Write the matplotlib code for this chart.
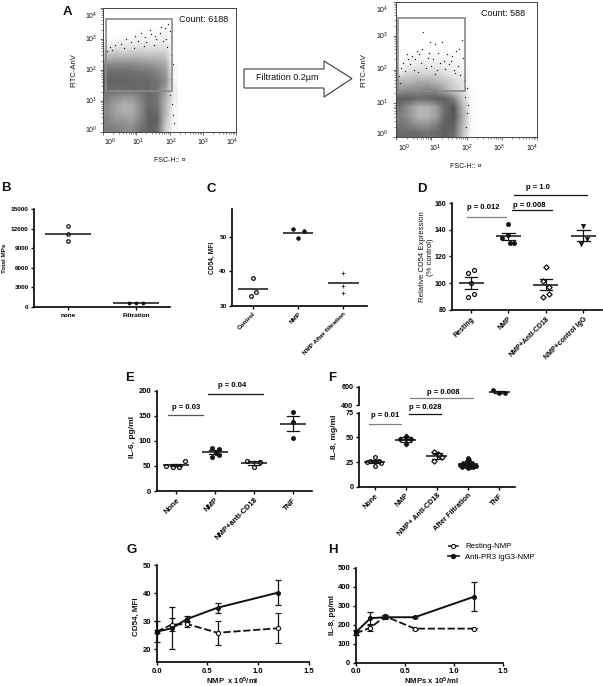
import numpy as np
import matplotlib
matplotlib.use('Agg')
import matplotlib.pyplot as plt
from matplotlib.patches import Polygon, Rectangle
from matplotlib.lines import Line2D

plt.rcParams['font.family'] = ['Liberation Sans', 'DejaVu Sans']
plt.rcParams['mathtext.default'] = 'regular'

W, H = 603, 686

# Panel A: grey level of the dot cloud, rows from low FITC up, read per quarter decade
flow_left = [
    [.60, .60, .55, .55, .65, .75, .70, .25, .02],
    [.60, .50, .50, .45, .60, .75, .75, .30, .03],
    [.55, .45, .38, .40, .55, .75, .70, .35, .03],
    [.55, .45, .38, .40, .55, .70, .65, .35, .05],
    [.60, .55, .50, .50, .60, .70, .65, .40, .08],
    [.70, .70, .70, .70, .70, .70, .65, .45, .08],
    [.75, .72, .72, .72, .70, .70, .65, .55, .05],
    [.70, .70, .70, .68, .68, .65, .60, .50, .03],
    [.60, .60, .60, .58, .55, .55, .50, .42, .02],
    [.35, .40, .38, .38, .38, .35, .35, .30, .01],
    [.18, .20, .18, .20, .20, .18, .20, .18, .01],
    [.03, .06, .08, .08, .10, .08, .10, .10, .01],
    [.00, .00, .01, .02, .03, .03, .04, .06, .00],
    [.00, .00, .00, .00, .00, .00, .00, .00, .00],
]
flow_right = [
    [.70, .70, .70, .65, .70, .75, .70, .30, .02],
    [.65, .60, .50, .50, .60, .75, .75, .35, .02],
    [.60, .50, .35, .35, .45, .70, .80, .40, .02],
    [.65, .50, .35, .35, .45, .70, .80, .35, .02],
    [.75, .75, .70, .70, .75, .75, .60, .25, .02],
    [.50, .55, .55, .60, .55, .40, .25, .15, .01],
    [.35, .35, .40, .40, .35, .30, .20, .12, .00],
    [.12, .20, .20, .20, .20, .15, .10, .07, .00],
    [.03, .08, .10, .10, .10, .08, .06, .04, .00],
    [.01, .03, .05, .05, .05, .05, .03, .02, .00],
    [.00, .00, .00, .00, .00, .00, .00, .00, .00],
    [.00, .00, .00, .00, .00, .00, .00, .00, .00],
    [.00, .00, .00, .00, .00, .00, .00, .00, .00],
    [.00, .00, .00, .00, .00, .00, .00, .00, .00],
]
# sparse events that can be told apart, log10 FSC / log10 FITC
sparse_left_x = [.95, 1.15, 1.25, 1.4, 1.55, 1.7, 1.85, 1.95, 2.0, 1.9, 2.05, .55, .7, .85, 1.05, 1.3, 1.6, 1.8, .2, .35, 1.45, 1.75,
                 2.02, 2.08, 2.12, 2.15, 2.05, 2.1, .12, .28, .62, .92, 1.22, 1.52, 1.93, 2.06]
sparse_left_y = [3.1, 3.2, 3.05, 3.3, 3.1, 3.2, 3.35, 3.5, 3.25, 3.0, 3.05, 2.85, 3.0, 2.9, 2.95, 2.9, 3.0, 2.95, 2.75, 2.8, 3.15, 3.4,
                 1.2, .9, .55, .3, 1.7, 2.2, 2.6, 2.65, 2.7, 2.72, 2.78, 2.82, 2.75, 2.5]
sparse_right_x = [.78, .97, 1.3, 1.87, 1.1, .6, .75, .3, .45, 1.2, 1.45, 1.7, 1.8, .2, .55, .9, 1.05, 1.35, 1.6, .15, .4, .7, 1.0, 1.25, 1.5, 1.75, 1.9, .25, .5, .85, 1.15, 1.4, 1.65, .35, .65, .95, 1.55,
                  1.98, 2.02, 2.05, 1.96, 2.0, 1.92, .08, .12, 1.82, 1.68, .62, 1.12]
sparse_right_y = [3.12, 2.82, 2.82, 2.87, 2.75, 2.55, 2.6, 2.45, 2.4, 2.5, 2.45, 2.55, 2.6, 2.2, 2.3, 2.35, 2.3, 2.25, 2.4, 2.05, 2.15, 2.2, 2.1, 2.2, 2.15, 2.1, 2.35, 1.95, 2.0, 2.05, 1.98, 2.02, 2.0, 2.3, 2.45, 2.5, 2.25,
                  .3, .7, .95, 1.2, 1.45, 1.7, 1.8, 1.6, 1.85, 1.9, 1.92, 1.88]

# Panel B
b_labels = ['none', 'Filtration']
b_x = [[0, 0, 0], [-.11, 0, .11]]
b_y = [[12400, 11200, 10100], [600, 600, 600]]
b_mean = [11200, 600]

# Panel C
c_labels = ['Control', 'NMP', 'NMP After filtration']
c_x = [[0, .07, -.05], [-.12, .12, 0], [0, 0, 0]]
c_y = [[38, 34, 33], [52.2, 51.7, 49.5], [39.6, 35.9, 33.7]]
c_mean = [35, 51, 36.5]

# Panel D
d_labels = ['Resting', 'NMP', 'NMP+Anti-CD18', 'NMP+control IgG']
d_x = [[.08, -.08, 0, .08, -.08], [0, 0, -.17, .04, .16], [0, -.07, .09, .09, -.07], [0, .09, -.07]]
d_y = [[110, 108, 100, 92, 90], [144, 136, 134, 130, 130], [112, 102, 97, 92, 90], [143, 133, 129]]
d_mean = [100, 135, 99, 135.5]
d_err = [4.3, 2.6, 4, 4]

# Panel E
e_labels = ['None', 'NMP', 'NMP+anti-CD18', 'TNF']
e_x = [[-.26, -.09, .08, .23], [-.09, .09, .03, -.09, .09], [-.17, .16, 0], [0, 0, 0]]
e_y = [[50, 48.7, 47.3, 60], [87, 84, 76, 68, 72], [60, 59, 48], [159, 138, 106]]
e_mean = [52, 78, 56, 135]
e_err = [2.5, 4.5, 3.5, 15.5]

# Panel F
f_labels = ['None', 'NMP', 'NMP+ Anti-CD18', 'After Filtration', 'TNF']
f_x = [[0, -.15, .15, 0, .22, -.23, 0],
       [0, -.17, .18, 0, 0],
       [-.1, -.1, .04, .15, .08],
       [0, -.04, .04, -.15, .12, -.25, .25, 0, -.1, .06, -.2, .17, 0, -.06, .09],
       [-.2, 0, .2]]
f_y = [[29.7, 26, 26, 26, 24, 25, 21],
       [51, 48, 48, 48, 43],
       [35.5, 26, 33, 30, 32],
       [29, 26, 27, 24, 24, 22, 21, 23.6, 21, 20, 20, 20, 18.6, 22, 22],
       [564, 527, 527]]
f_mean = [25.5, 47.7, 31.5, 23, 545]
f_err = [1.5, 2.5, 3, 1, 12]

# Panels G and H
dose = [0, .15, .3, .6, 1.2]
g_active = [26.3, 27.5, 30.8, 34.8, 40.2]
g_active_err = [3.7, 7.5, 1, 1.8, 4.3]
g_resting = [26.3, 28.8, 29, 25.9, 27.5]
g_resting_err = [.5, 2.2, 1, 4.3, 5.3]
h_active = [160, 235, 240, 240, 348]
h_active_err = [15, 35, 10, 5, 77]
h_resting = [155, 185, 245, 180, 180]
h_resting_err = [10, 20, 8, 5, 3]

fig = plt.figure(figsize=(W / 100, H / 100), dpi=100)

# overlay in pixel coordinates for panel letters, axis titles and the filtration arrow
page = fig.add_axes([0, 0, 1, 1], zorder=5)
page.set_xlim(0, W)
page.set_ylim(H, 0)
page.axis('off')


def add_ax(left, top, right, bottom):
    return fig.add_axes([left / W, 1 - bottom / H, (right - left) / W, (bottom - top) / H])


def note(x, y, s, size=5, weight='normal', rotation=0, ha='center'):
    page.text(x, y, s, fontsize=size, fontweight=weight, rotation=rotation, ha=ha, va='center', color='#111111')


def flow_panel(box, grid, sx, sy, gate, xlabs, ylabs, ylab_x, xlab_y):
    ax = add_ax(*box)
    ax.imshow(grid, origin='lower', extent=[0, 2.25, 0, 3.5], cmap='gray_r', vmin=0, vmax=1.2,
              interpolation='bilinear', aspect='auto')
    ax.scatter(sx, sy, s=1.0, color='#222222', linewidths=0)
    ax.set_xlim(0, 4)
    ax.set_ylim(0, 4)
    ax.add_patch(Rectangle((gate[0], gate[2]), gate[1] - gate[0], gate[3] - gate[2], fill=False, ec='#8a8a8a', lw=1.2))
    ax.set_xticks(range(5))
    ax.set_yticks(range(5))
    minor = [d + np.log10(m) for d in range(4) for m in range(2, 10)]
    ax.set_xticks(minor, minor=True)
    ax.set_yticks(minor, minor=True)
    ax.set_xticklabels([])
    ax.set_yticklabels([])
    ax.tick_params(length=2.5, width=0.5, color='#333333')
    ax.tick_params(which='minor', length=1.2, width=0.4, color='#333333')
    for s in ax.spines.values():
        s.set_linewidth(0.7)
        s.set_color('#444444')
    for i, x in enumerate(xlabs):
        note(x, xlab_y, '$10^{%d}$' % i, size=5)
    for i, y in enumerate(ylabs):
        note(ylab_x, y, '$10^{%d}$' % i, size=5)


def dot_axes(box, xlim, ylim, yticks, labels, size=5, weight='bold', rot=45, lw=1.2):
    ax = add_ax(*box)
    ax.set_xlim(*xlim)
    ax.set_ylim(*ylim)
    ax.spines['top'].set_visible(False)
    ax.spines['right'].set_visible(False)
    ax.spines['left'].set_linewidth(lw)
    ax.spines['bottom'].set_linewidth(lw)
    ax.set_yticks(yticks)
    ax.set_xticks(range(len(labels)))
    if rot:
        ax.set_xticklabels(labels, rotation=rot, ha='right', rotation_mode='anchor', fontsize=size, fontweight=weight)
    else:
        ax.set_xticklabels(labels, fontsize=size, fontweight=weight)
    for t in ax.get_yticklabels():
        t.set_fontsize(size)
        t.set_fontweight(weight)
    ax.tick_params(length=2.5, width=lw * 0.8, pad=1.5)
    ax.patch.set_alpha(0)
    return ax


def dots(ax, i, xs, ys, marker='o', filled=True, s=7):
    px = [i + x for x in xs]
    if filled:
        ax.scatter(px, ys, s=s, marker=marker, color='#111111', linewidths=0.5, zorder=3, clip_on=False)
    else:
        ax.scatter(px, ys, s=s, marker=marker, facecolors='white', edgecolors='#111111', linewidths=0.9, zorder=3, clip_on=False)


def mean_bar(ax, i, mean, err=None, half=.335, cap=.17, color='#111111'):
    ax.plot([i - half, i + half], [mean, mean], color=color, lw=1.1, zorder=4, solid_capstyle='butt')
    if err is not None:
        ax.plot([i, i], [mean - err, mean + err], color=color, lw=0.9, zorder=4)
        ax.plot([i - cap, i + cap], [mean + err, mean + err], color=color, lw=0.9, zorder=4)
        ax.plot([i - cap, i + cap], [mean - err, mean - err], color=color, lw=0.9, zorder=4)


def p_line(ax, x0, x1, y, txt, tx, ty, color='#111111', size=5.5):
    ax.plot([x0, x1], [y, y], color=color, lw=0.9, clip_on=False)
    ax.text(tx, ty, txt, fontsize=size, fontweight='bold', ha='center', va='center', clip_on=False)


# A: flow cytometry plots and arrow
flow_panel((103, 8, 236, 132), flow_left, sparse_left_x, sparse_left_y, (.09, 2.07, 1.32, 3.65),
           [110, 138, 171, 203, 232], [130, 101, 70, 39, 16], 91, 142)
flow_panel((396, 2, 537, 137), flow_right, sparse_right_x, sparse_right_y, (.06, 1.95, 1.36, 3.53),
           [404, 435, 467, 499, 532], [134, 103, 69, 36, 10], 382, 148)
note(179, 19, 'Count: 6188', size=6.5, ha='left')
note(481, 13, 'Count: 588', size=6.5, ha='left')
note(74, 70, 'FITC-AnV', size=5.5, rotation=90)
note(364, 70, 'FITC-AnV', size=5.5, rotation=90)
note(170, 160, 'FSC-H:: ¤', size=5)
note(466, 167, 'FSC-H:: ¤', size=5)
page.add_patch(Polygon([(244, 69), (324, 69), (324, 61), (352, 78.5), (324, 97), (324, 88), (244, 88)],
                       closed=True, fc='white', ec='#222222', lw=0.7))
note(256, 78, 'Filtration 0.2µm', size=6.5, ha='left')

# B
ax = dot_axes((34, 209, 170, 307), (-.5, 1.5), (0, 15000), [0, 3000, 6000, 9000, 12000, 15000], b_labels, size=4.6, rot=0)
note(5, 258, 'Total MPs', size=4.6, weight='bold', rotation=90)
for i in range(2):
    dots(ax, i, b_x[i], b_y[i], filled=i == 1, s=6 if i == 0 else 5)
    mean_bar(ax, i, b_mean[i])

# C
ax = dot_axes((232, 209, 367, 306), (-.46, 2.52), (30, 58), [30, 40, 50], c_labels, size=4.6)
note(212, 258, 'CD54, MFI', size=4.8, weight='bold', rotation=90)
for i, m in enumerate(['o', 'o', '+']):
    dots(ax, i, c_x[i], c_y[i], marker=m, filled=i > 0, s=7)
    mean_bar(ax, i, c_mean[i])

# D
ax = dot_axes((452, 203, 602, 310), (-.51, 3.5), (80, 160), [80, 100, 120, 140, 160], d_labels, size=5)
note(427, 257, 'Relative CD54 Expression\n(% control)', size=5.6, rotation=90)
dots(ax, 0, d_x[0], d_y[0], filled=False, s=8)
dots(ax, 1, d_x[1], d_y[1], s=9)
dots(ax, 2, d_x[2], d_y[2], marker='D', filled=False, s=7)
dots(ax, 3, d_x[3], d_y[3], marker='v', s=9)
for i in range(4):
    mean_bar(ax, i, d_mean[i], d_err[i])
p_line(ax, -.1, .93, 149.8, 'p = 0.012', .33, 156.5, color='#808080')
p_line(ax, 1.1, 2.16, 154.8, 'p = 0.008', 1.55, 158.5)
p_line(ax, 1.16, 3.1, 166, 'p = 1.0', 1.8, 171.5)

# E
ax = dot_axes((157, 391, 312, 491), (-.49, 3.49), (0, 200), [0, 50, 100, 150, 200], e_labels, size=5.5)
note(132, 437, 'IL-6, pg/ml', size=6, weight='bold', rotation=90)
dots(ax, 0, e_x[0], e_y[0], filled=False, s=8)
dots(ax, 1, e_x[1], e_y[1], s=9)
dots(ax, 2, e_x[2], e_y[2], filled=False, s=8)
dots(ax, 3, e_x[3], e_y[3], s=9)
for i in range(4):
    mean_bar(ax, i, e_mean[i], e_err[i], cap=.16)
p_line(ax, -.2, .68, 152.7, 'p = 0.03', .25, 167, color='#555555')
p_line(ax, .83, 2.22, 194.7, 'p = 0.04', 1.44, 211)

# F: broken axis, TNF sits on the upper part
ax = dot_axes((359, 412.7, 515, 486.7), (-.5, 4.51), (0, 75), [0, 25, 50, 75], f_labels, size=5.2)
note(334, 437, 'IL-8, mg/ml', size=6, weight='bold', rotation=90)
top = dot_axes((359, 386.7, 515, 405), (-.5, 4.51), (400, 600), [400, 600], f_labels, size=5.2)
top.spines['bottom'].set_visible(False)
top.set_xticks([])
dots(ax, 0, f_x[0], f_y[0], filled=False, s=7)
dots(ax, 1, f_x[1], f_y[1], marker='D', s=7)
dots(ax, 2, f_x[2], f_y[2], marker='D', filled=False, s=7)
dots(ax, 3, f_x[3], f_y[3], s=8)
dots(top, 4, f_x[4], f_y[4], s=8)
for i in range(4):
    mean_bar(ax, i, f_mean[i], f_err[i], cap=.16)
mean_bar(top, 4, f_mean[4], f_err[4], cap=.16)
p_line(ax, -.17, .84, 63.9, 'p = 0.01', .33, 72, color='#808080')
p_line(ax, 1.11, 2.13, 73.6, 'p = 0.028', 1.62, 80)
p_line(ax, 1.14, 3.17, 90, 'p = 0.008', 2.19, 95.6, color='#808080')


def dose_axes(box, xlim, ylim, yticks):
    ax = add_ax(*box)
    ax.set_xlim(*xlim)
    ax.set_ylim(*ylim)
    ax.spines['top'].set_visible(False)
    ax.spines['right'].set_visible(False)
    ax.spines['left'].set_linewidth(1.2)
    ax.spines['bottom'].set_linewidth(1.2)
    ax.set_yticks(yticks)
    ax.set_xticks([0, .5, 1, 1.5])
    ax.set_xticklabels(['0.0', '0.5', '1.0', '1.5'])
    ax.tick_params(length=2.5, width=1, labelsize=5.5, pad=1.5)
    for t in ax.get_xticklabels() + ax.get_yticklabels():
        t.set_fontweight('bold')
    ax.patch.set_alpha(0)
    return ax


def dose_curves(ax, active, active_err, resting, resting_err):
    ax.errorbar(dose, resting, yerr=resting_err, color='#111111', lw=1.3, ls=(0, (4, 1.5)), marker='o', ms=3,
                mfc='white', mec='#111111', mew=0.8, capsize=2, elinewidth=0.9, capthick=0.9, clip_on=False)
    ax.errorbar(dose, active, yerr=active_err, color='#111111', lw=1.4, marker='o', ms=2.6, capsize=2,
                elinewidth=0.9, capthick=0.9, clip_on=False)


# G
ax = dose_axes((156.7, 565, 308.7, 662), (0, 1.5), (15.5, 50), [20, 30, 40, 50])
note(136, 617, 'CD54, MFI', size=5.8, weight='bold', rotation=90)
note(232, 681, 'NMP  x 10$^5$/ml', size=5.6, weight='bold')
dose_curves(ax, g_active, g_active_err, g_resting, g_resting_err)

# H
ax = dose_axes((355.7, 568, 503.3, 662.7), (0, 1.5), (0, 500), [0, 100, 200, 300, 400, 500])
note(332, 615, 'IL-8, pg/ml', size=5.8, weight='bold', rotation=90)
note(431, 681, 'NMPs x 10$^5$/ml', size=5.6, weight='bold')
dose_curves(ax, h_active, h_active_err, h_resting, h_resting_err)
handles = [Line2D([], [], color='#111111', lw=1.1, ls=(0, (3, 1)), marker='o', ms=3, mfc='white', mew=0.8),
           Line2D([], [], color='#111111', lw=1.2, marker='o', ms=2.8)]
fig.legend(handles, ['Resting-NMP', 'Anti-PR3 IgG3-NMP'], loc='upper left', bbox_to_anchor=(448 / W, 1 - 543 / H),
           frameon=False, fontsize=5.6, handlelength=1.4, handletextpad=0.8, labelspacing=0.35, borderpad=0, borderaxespad=0)

# panel letters
for letter, x, y in [('A', 67, 12), ('B', 6, 188), ('C', 211, 189), ('D', 422, 189),
                     ('E', 130, 378), ('F', 332, 378), ('G', 132, 550), ('H', 333, 550)]:
    note(x, y, letter, size=9.5, weight='bold')

fig.savefig('out.png', dpi=100)
